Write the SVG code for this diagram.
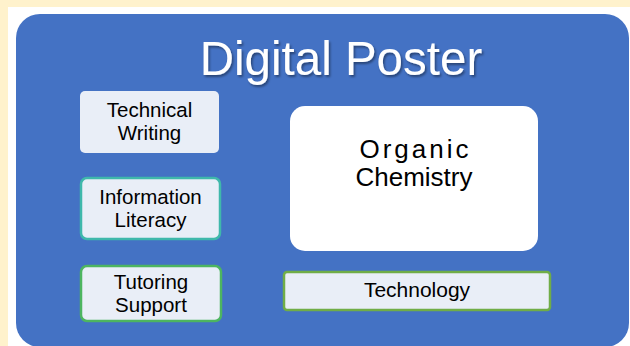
<svg xmlns="http://www.w3.org/2000/svg" width="630" height="346" viewBox="0 0 630 346">
<defs>
<filter id="shadow" x="-10%" y="-20%" width="120%" height="150%">
<feDropShadow dx="1.5" dy="2" stdDeviation="1.2" flood-color="#000" flood-opacity="0.4"/>
</filter>
<style>
.lbl{font-family:"Liberation Sans",Arial,sans-serif;fill:#000;text-anchor:middle;font-size:20.5px}
.box{fill:#E9EEF7}
</style>
</defs>
<rect x="0" y="0" width="630" height="346" fill="#FFF2CC"/>
<rect x="8" y="7" width="622" height="339" fill="#FFFFFF"/>
<rect id="poster" x="16" y="14" width="613" height="333" rx="24" fill="#4472C4"/>
<text x="341" y="75" font-family="Liberation Sans, Arial, sans-serif" font-size="47.5" fill="#FFFFFF" text-anchor="middle" filter="url(#shadow)">Digital Poster</text>
<g id="connectors"/>
<g id="technical-writing">
<rect class="box" x="80" y="91" width="139" height="62" rx="5"/>
<text class="lbl" x="149.5" y="117">Technical</text>
<text class="lbl" x="149.5" y="139.5">Writing</text>
</g>
<g id="information-literacy">
<rect class="box" x="81" y="178" width="139" height="61" rx="6" stroke="#3FB8AB" stroke-width="2.5"/>
<text class="lbl" x="150.5" y="204">Information</text>
<text class="lbl" x="150.5" y="226.5">Literacy</text>
</g>
<g id="tutoring-support">
<rect class="box" x="81" y="266" width="140" height="55" rx="6" stroke="#4DB560" stroke-width="2.5"/>
<text class="lbl" x="151" y="289">Tutoring</text>
<text class="lbl" x="151" y="311.5">Support</text>
</g>
<g id="organic-chemistry">
<rect x="290" y="106" width="248" height="145" rx="15" fill="#FFFFFF"/>
<text class="lbl" style="font-size:26px" x="415.5" y="158" letter-spacing="3">Organic</text>
<text class="lbl" style="font-size:26px" x="414" y="186">Chemistry</text>
</g>
<g id="technology">
<rect class="box" x="284" y="272" width="266" height="38" rx="3" stroke="#70AD47" stroke-width="2.5"/>
<text class="lbl" style="font-size:21px" x="417" y="297">Technology</text>
</g>
</svg>
